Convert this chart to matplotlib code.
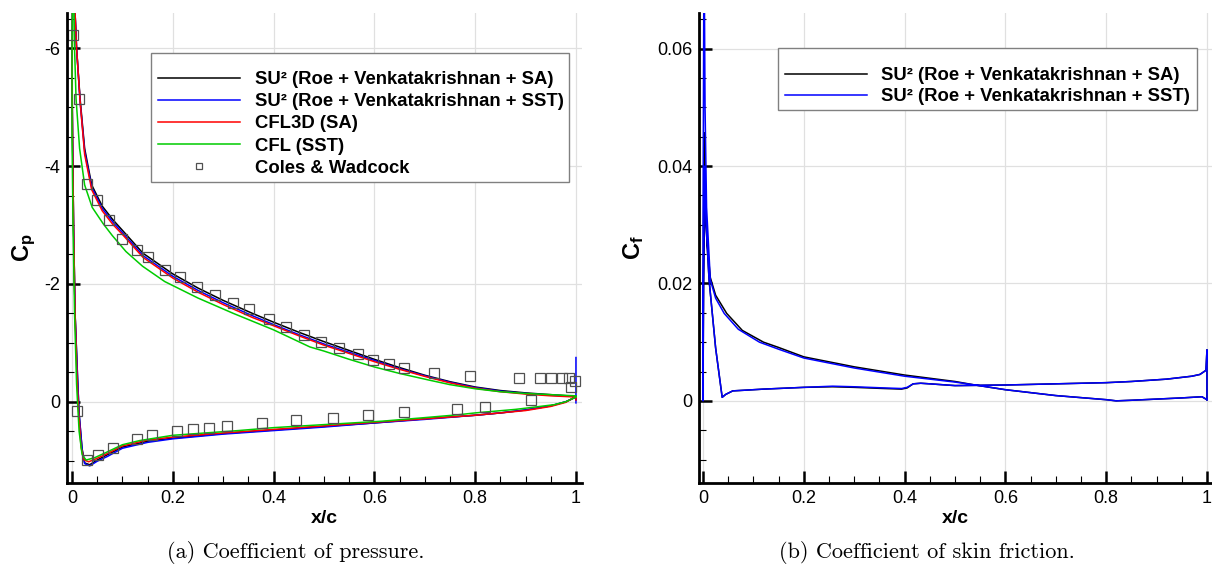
"""Cp and Cf comparison, NACA 4412 style two-panel figure."""
import matplotlib
matplotlib.use("Agg")
import matplotlib.pyplot as plt
from matplotlib.lines import Line2D
from matplotlib.patches import Rectangle
from matplotlib.font_manager import FontProperties
from matplotlib.ticker import MultipleLocator, FormatStrFormatter

plt.rcParams["font.family"] = ["Liberation Sans", "DejaVu Sans"]
plt.rcParams["axes.unicode_minus"] = False
plt.rcParams["mathtext.fontset"] = "custom"
plt.rcParams["mathtext.rm"] = "Liberation Sans"
plt.rcParams["mathtext.bf"] = "Liberation Sans:bold"
plt.rcParams["mathtext.it"] = "Liberation Sans:italic"

# ---- Cp data (surface order: lower TE -> LE -> upper TE) ----
cp_sa_x = [1.0, 1.0, 0.98, 0.95, 0.9, 0.85, 0.8, 0.7, 0.6, 0.5, 0.4, 0.3, 0.2, 0.15, 0.1, 0.07,
           0.05, 0.035, 0.025, 0.02, 0.014, 0.011, 0.006, 0.003, 0.001, 0.0, 0.001, 0.003,
           0.006, 0.009, 0.016, 0.025, 0.039, 0.06, 0.081, 0.1, 0.141, 0.2, 0.25, 0.3, 0.358,
           0.4, 0.45, 0.5, 0.55, 0.6, 0.646, 0.7, 0.75, 0.8, 0.85, 0.9, 0.95, 1.0]
cp_sa_y = [-0.03, -0.08, 0.0, 0.07, 0.14, 0.19, 0.23, 0.29, 0.36, 0.42, 0.48, 0.54, 0.62, 0.67,
           0.77, 0.90, 0.99, 1.07, 1.04, 0.80, 0.20, -0.40, -1.50, -3.00, -4.50, -5.50, -6.80,
           -7.60, -6.60, -6.00, -5.14, -4.30, -3.68, -3.32, -3.09, -2.91, -2.52, -2.17, -1.93,
           -1.72, -1.50, -1.35, -1.18, -1.02, -0.87, -0.72, -0.59, -0.45, -0.34, -0.25, -0.19,
           -0.15, -0.12, -0.09]

cp_sst_x = [1.0, 1.0, 0.98, 0.95, 0.9, 0.85, 0.8, 0.7, 0.6, 0.5, 0.4, 0.3, 0.2, 0.15, 0.1, 0.07,
            0.05, 0.035, 0.025, 0.02, 0.014, 0.011, 0.006, 0.003, 0.001, 0.0, 0.001, 0.003,
            0.006, 0.009, 0.016, 0.025, 0.039, 0.06, 0.081, 0.1, 0.141, 0.2, 0.25, 0.3, 0.358,
            0.4, 0.45, 0.5, 0.55, 0.6, 0.646, 0.7, 0.75, 0.8, 0.85, 0.9, 0.95, 1.0, 1.0]
cp_sst_y = [-0.75, -0.08, 0.0, 0.07, 0.14, 0.19, 0.23, 0.30, 0.36, 0.43, 0.49, 0.55, 0.63, 0.69,
            0.79, 0.93, 1.01, 1.09, 1.05, 0.82, 0.20, -0.40, -1.50, -3.00, -4.50, -5.50, -6.80,
            -7.60, -6.60, -6.00, -5.10, -4.25, -3.64, -3.28, -3.05, -2.87, -2.48, -2.13, -1.89,
            -1.68, -1.46, -1.31, -1.14, -0.98, -0.84, -0.70, -0.57, -0.44, -0.33, -0.24, -0.18,
            -0.14, -0.11, -0.09, 0.02]

cp_cfl3d_x = [1.0, 1.0, 0.98, 0.95, 0.9, 0.85, 0.8, 0.7, 0.6, 0.5, 0.4, 0.3, 0.2, 0.15, 0.1,
              0.07, 0.05, 0.033, 0.024, 0.018, 0.013, 0.01, 0.006, 0.003, 0.001, 0.0, 0.001,
              0.003, 0.006, 0.009, 0.016, 0.025, 0.039, 0.06, 0.081, 0.1, 0.141, 0.2, 0.25, 0.3,
              0.358, 0.4, 0.45, 0.5, 0.55, 0.6, 0.646, 0.7, 0.75, 0.8, 0.85, 0.9, 0.95, 1.0]
cp_cfl3d_y = [-0.03, -0.09, 0.01, 0.08, 0.15, 0.19, 0.23, 0.29, 0.35, 0.41, 0.47, 0.53, 0.60,
              0.65, 0.75, 0.88, 0.96, 1.02, 0.99, 0.78, 0.15, -0.40, -1.50, -3.00, -4.50, -5.50,
              -6.80, -7.60, -6.60, -6.00, -5.10, -4.20, -3.60, -3.24, -3.01, -2.84, -2.45, -2.10,
              -1.86, -1.65, -1.43, -1.29, -1.12, -0.96, -0.82, -0.68, -0.56, -0.43, -0.32, -0.23,
              -0.17, -0.13, -0.10, -0.08]

cp_cfl_x = [1.0, 0.98, 0.957, 0.9, 0.88, 0.8, 0.768, 0.7, 0.616, 0.517, 0.4, 0.33, 0.2, 0.134,
            0.1, 0.068, 0.045, 0.028, 0.02, 0.014, 0.009, 0.005, 0.002, 0.0, 0.0, 0.001, 0.003,
            0.004, 0.005, 0.008, 0.015, 0.025, 0.04, 0.062, 0.08, 0.107, 0.14, 0.184, 0.25,
            0.32, 0.4, 0.472, 0.5, 0.55, 0.6, 0.65, 0.707, 0.75, 0.8, 0.85, 0.9, 0.95, 1.0]
cp_cfl_y = [-0.08, 0.0, 0.05, 0.11, 0.13, 0.19, 0.22, 0.27, 0.33, 0.38, 0.44, 0.49, 0.57, 0.66,
            0.73, 0.86, 0.95, 0.99, 0.90, 0.50, -0.30, -1.50, -3.00, -4.50, -6.00, -7.00, -7.30,
            -6.60, -6.00, -5.14, -4.30, -3.68, -3.30, -3.02, -2.82, -2.55, -2.30, -2.04, -1.76,
            -1.50, -1.22, -0.93, -0.86, -0.72, -0.59, -0.48, -0.37, -0.29, -0.22, -0.17, -0.14,
            -0.12, -0.10]

exp_x = [0.002, 0.014, 0.03, 0.05, 0.073, 0.099, 0.129, 0.151, 0.185, 0.214, 0.248, 0.284,
         0.319, 0.351, 0.391, 0.425, 0.461, 0.495, 0.529, 0.567, 0.597, 0.629, 0.659, 0.719,
         0.789, 0.887, 0.929, 0.95, 0.973, 0.986, 0.999, 0.99, 0.91,
         0.009, 0.03, 0.051, 0.081, 0.128, 0.159, 0.208, 0.241, 0.271, 0.307, 0.376, 0.445,
         0.517, 0.587, 0.659, 0.764, 0.819]
exp_cp = [-6.22, -5.14, -3.69, -3.42, -3.08, -2.77, -2.57, -2.45, -2.24, -2.11, -1.95, -1.81,
          -1.68, -1.57, -1.40, -1.27, -1.13, -1.02, -0.91, -0.81, -0.71, -0.64, -0.58, -0.49,
          -0.44, -0.41, -0.41, -0.41, -0.41, -0.40, -0.36, -0.25, -0.03,
          0.16, 0.99, 0.91, 0.78, 0.63, 0.57, 0.50, 0.47, 0.44, 0.41, 0.36, 0.31, 0.27, 0.23,
          0.18, 0.12, 0.09]

# ---- Cf data ----
cf_sa_x = [1.0, 1.0, 0.998, 0.986, 0.97, 0.92, 0.85, 0.8, 0.7, 0.6, 0.5, 0.45, 0.432, 0.417,
           0.405, 0.394, 0.36, 0.3, 0.257, 0.2, 0.12, 0.08, 0.059, 0.045, 0.038, 0.025, 0.012,
           0.006, 0.003, 0.001, 0.0, 0.001, 0.003, 0.005, 0.008, 0.0145, 0.025, 0.047, 0.078,
           0.12, 0.15, 0.2, 0.3, 0.4, 0.5, 0.54, 0.6, 0.7, 0.8, 0.82, 0.85, 0.9, 0.95, 0.99, 1.0]
cf_sa_y = [0.0002, 0.0087, 0.0052, 0.0045, 0.0042, 0.0037, 0.0033, 0.0031, 0.0029, 0.0027,
           0.0026, 0.0029, 0.0030, 0.0029, 0.0022, 0.0020, 0.0021, 0.0023, 0.0024, 0.0023,
           0.0020, 0.0018, 0.0017, 0.0011, 0.0006, 0.0090, 0.0206, 0.0300, 0.0360, 0.0200,
           0.0, 0.0300, 0.0457, 0.0340, 0.0270, 0.0210, 0.0180, 0.0149, 0.0120, 0.0100, 0.0091,
           0.0075, 0.0058, 0.0044, 0.0033, 0.0027, 0.0019, 0.0009, 0.0002, 0.0, 0.0001, 0.0003,
           0.0005, 0.0007, 0.0002]

cf_sst_x = [1.0, 1.0, 0.998, 0.986, 0.97, 0.92, 0.85, 0.8, 0.7, 0.6, 0.5, 0.45, 0.432, 0.417,
            0.405, 0.394, 0.36, 0.3, 0.257, 0.2, 0.12, 0.08, 0.059, 0.045, 0.038, 0.025, 0.012,
            0.006, 0.003, 0.001, 0.0, 0.0, 0.002, 0.004, 0.007, 0.0145, 0.025, 0.042, 0.07,
            0.112, 0.15, 0.2, 0.3, 0.4, 0.5, 0.54, 0.6, 0.7, 0.8, 0.82, 0.85, 0.9, 0.95, 0.99, 1.0]
cf_sst_y = [0.0002, 0.0087, 0.0052, 0.0045, 0.0042, 0.0037, 0.0033, 0.0031, 0.0029, 0.0027,
            0.0026, 0.0029, 0.0030, 0.0029, 0.0023, 0.0021, 0.0022, 0.0024, 0.0025, 0.0023,
            0.0020, 0.0018, 0.0017, 0.0011, 0.0006, 0.0090, 0.0206, 0.0300, 0.0400, 0.0200,
            0.0, 0.0300, 0.0800, 0.0500, 0.0330, 0.0206, 0.0175, 0.0149, 0.0122, 0.0100, 0.0088,
            0.0073, 0.0056, 0.0042, 0.0032, 0.0027, 0.0019, 0.0009, 0.0002, 0.0, 0.0001, 0.0003,
            0.0005, 0.0007, 0.0002]

labels = ["SU\u00b2 (Roe + Venkatakrishnan + SA)", "SU\u00b2 (Roe + Venkatakrishnan + SST)",
          "CFL3D (SA)", "CFL (SST)", "Coles & Wadcock"]
colors = ["black", "#0000ff", "#ff0000", "#00cc00"]

W, H = 1212, 565
fig = plt.figure(figsize=(W / 100, H / 100), dpi=100)
ax1 = fig.add_axes([67 / W, 82 / H, 515 / W, 470 / H])
ax2 = fig.add_axes([699 / W, 82 / H, 513 / W, 470 / H])


def style(ax, ymajor, yminor):
    ax.spines["top"].set_visible(False)
    ax.spines["right"].set_visible(False)
    for s in ("left", "bottom"):
        ax.spines[s].set_linewidth(2.0)
    ax.xaxis.set_major_locator(MultipleLocator(0.2))
    ax.xaxis.set_minor_locator(MultipleLocator(0.05))
    ax.yaxis.set_major_locator(MultipleLocator(ymajor))
    ax.yaxis.set_minor_locator(MultipleLocator(yminor))
    ax.xaxis.set_major_formatter(FormatStrFormatter("%g"))
    ax.yaxis.set_major_formatter(FormatStrFormatter("%g"))
    ax.tick_params(which="major", direction="in", length=9, width=1.8, labelsize=13, pad=5,
                   top=False, right=False)
    ax.tick_params(which="minor", direction="in", length=5, width=0.8, top=False, right=False)
    ax.grid(True, which="major", color="#e0e0e0", lw=0.9)
    ax.set_axisbelow(True)
    ax.set_xlabel("x/c", fontsize=14, fontweight="bold", labelpad=2)


def legend_box(ax, x0, y0, x1, y1):
    ax.add_patch(Rectangle((x0 / W, 1 - y1 / H), (x1 - x0) / W, (y1 - y0) / H,
                           transform=fig.transFigure, facecolor="white", edgecolor="#808080",
                           lw=1.0, zorder=4.5, clip_on=False))


# ---- (a) pressure ----
style(ax1, 2, 0.5)
for xs, ys, c in [(cp_sa_x, cp_sa_y, colors[0]), (cp_sst_x, cp_sst_y, colors[1]),
                  (cp_cfl3d_x, cp_cfl3d_y, colors[2]), (cp_cfl_x, cp_cfl_y, colors[3])]:
    ax1.plot(xs, ys, color=c, lw=1.1)
ax1.plot(exp_x, exp_cp, ls="none", marker="s", ms=6.5, mfc="none", mec="#505050", mew=0.9)
ax1.set_xlim(-0.01, 1.012)
ax1.set_ylim(1.38, -6.6)
ax1.set_ylabel(r"$\mathbf{C_p}$", fontsize=17)
ax1.yaxis.set_label_coords((38 - 67) / 515, 0.5)

legend_box(ax1, 151, 53, 569, 182)
handles = [Line2D([], [], color=c, lw=1.1) for c in colors]
handles.append(Line2D([], [], ls="none", marker="s", ms=4.5, mfc="none", mec="#505050", mew=0.9))
lprop = FontProperties(family="Liberation Sans", weight="bold", size=13.3)
ax1.legend(handles, labels, loc="upper left", bbox_to_anchor=(158 / W, 1 - 71 / H),
           bbox_transform=fig.transFigure, frameon=False, borderpad=0, borderaxespad=0,
           handlelength=4.45, handletextpad=0.8, labelspacing=0.28, prop=lprop)

# ---- (b) skin friction ----
style(ax2, 0.02, 0.005)
ax2.plot(cf_sa_x, cf_sa_y, color=colors[0], lw=1.1)
ax2.plot(cf_sst_x, cf_sst_y, color=colors[1], lw=1.1)
ax2.set_xlim(-0.008, 1.01)
ax2.set_ylim(-0.014, 0.0661)
ax2.set_ylabel(r"$\mathbf{C_f}$", fontsize=17)
ax2.yaxis.set_label_coords((646 - 699) / 513, 0.5)

legend_box(ax2, 778, 48, 1197, 110)
ax2.legend(handles[:2], labels[:2], loc="upper left", bbox_to_anchor=(785 / W, 1 - 67 / H),
           bbox_transform=fig.transFigure, frameon=False, borderpad=0, borderaxespad=0,
           handlelength=4.45, handletextpad=0.72, labelspacing=0.24, prop=lprop)

fig.text(296 / W, 1 - 552 / H, "(a) Coefficient of pressure.", ha="center", va="center",
         family="cmr10", fontsize=16)
fig.text(927 / W, 1 - 552 / H, "(b) Coefficient of skin friction.", ha="center", va="center",
         family="cmr10", fontsize=16)

fig.savefig("out.png", dpi=100)
